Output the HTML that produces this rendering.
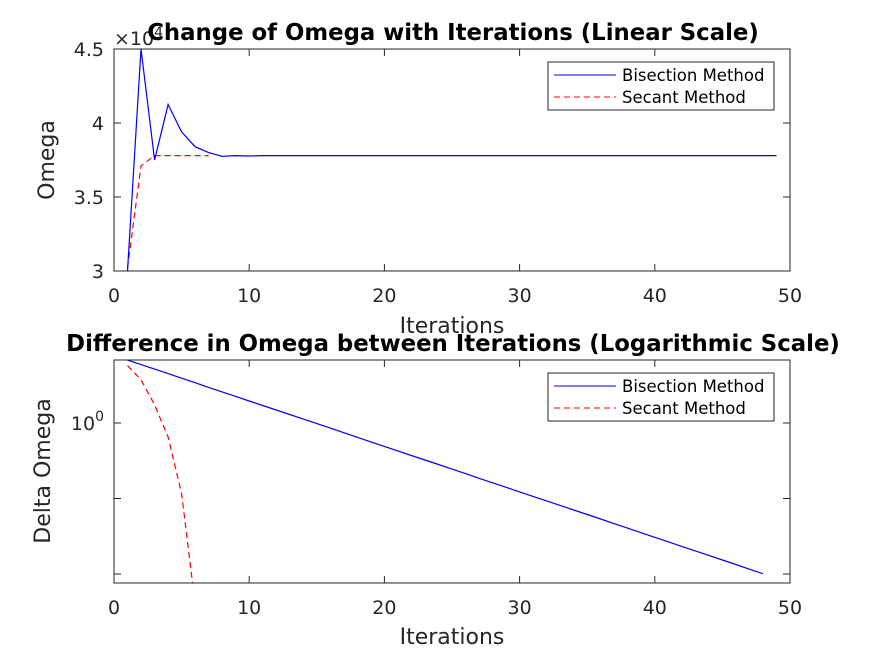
<!DOCTYPE html>
<html><head><meta charset="utf-8"><style>
html,body{margin:0;padding:0;background:#fff;}
svg{display:block;font-family:"DejaVu Sans","Liberation Sans",sans-serif;}
</style></head><body>
<svg id="fig" width="874" height="656" viewBox="0 0 874 656">
<rect width="874" height="656" fill="#fff"/>
<g id="top"></g>
<g id="bot"></g>
</svg>
<script>
// ---- top chart data ----
const topIterBis = [1,2,3,4,5,6,7,8,9,10,11,12,13,14,15,16,17,18,19,20,21,22,23,24,25,26,27,28,29,30,31,32,33,34,35,36,37,38,39,40,41,42,43,44,45,46,47,48,49];
const topOmegaBis = [3.0,4.5,3.75,4.125,3.94,3.84,3.80,3.775,3.78,3.777,3.78,3.78,3.78,3.78,3.78,3.78,3.78,3.78,3.78,3.78,3.78,3.78,3.78,3.78,3.78,3.78,3.78,3.78,3.78,3.78,3.78,3.78,3.78,3.78,3.78,3.78,3.78,3.78,3.78,3.78,3.78,3.78,3.78,3.78,3.78,3.78,3.78,3.78,3.78];
const topIterSec = [1,2,3,4,5,6,7];
const topOmegaSec = [3.02,3.71,3.78,3.78,3.78,3.78,3.78];
const topXTicks = [0,10,20,30,40,50];
const topYTicks = [3,3.5,4,4.5];
// ---- bottom chart data (log10 of delta omega) ----
const botIterBis = [1,2,3,4,5,6,7,8,9,10,11,12,13,14,15,16,17,18,19,20,21,22,23,24,25,26,27,28,29,30,31,32,33,34,35,36,37,38,39,40,41,42,43,44,45,46,47,48];
const botLogDeltaBis = [4.17,3.87,3.57,3.27,2.97,2.67,2.36,2.06,1.76,1.46,1.16,0.86,0.56,0.26,-0.04,-0.34,-0.64,-0.95,-1.25,-1.55,-1.85,-2.15,-2.45,-2.75,-3.05,-3.35,-3.66,-3.96,-4.26,-4.56,-4.86,-5.16,-5.46,-5.76,-6.06,-6.36,-6.67,-6.97,-7.27,-7.57,-7.87,-8.17,-8.47,-8.77,-9.07,-9.37,-9.68,-9.98];
const botIterSec = [1,2,3,4,5,6];
const botLogDeltaSec = [3.8,2.87,1.2,-0.93,-4.67,-12];
const botXTicks = [0,10,20,30,40,50];
const botYTicks = [0,-5,-10];

const NS="http://www.w3.org/2000/svg";
function mk(parent,tag,attrs){const e=document.createElementNS(NS,tag);for(const k in attrs)e.setAttribute(k,attrs[k]);parent.appendChild(e);return e;}
const L=114,R=790;
const sx=v=>L+(v/50)*(R-L);

function axes(g,T,B,sy,xt,yt,ylabels){
  mk(g,'rect',{x:L,y:T,width:R-L,height:B-T,fill:'#fff'});
  for(const t of xt){
    const x=sx(t);
    const a=mk(g,'line',{x1:x,y1:B,x2:x,y2:B-7,stroke:'#262626'});
    
    mk(g,'line',{x1:x,y1:T,x2:x,y2:T+7,stroke:'#262626'});
    const tx=mk(g,'text',{x:x,y:B+31,'text-anchor':'middle','font-size':19,fill:'#262626'});
    tx.textContent=t;
    
  }
  yt.forEach((t,i)=>{
    const y=sy(t);
    mk(g,'line',{x1:L,y1:y,x2:L+7,y2:y,stroke:'#262626'});
    mk(g,'line',{x1:R,y1:y,x2:R-7,y2:y,stroke:'#262626'});
    if(ylabels[i]){
      const tx=mk(g,'text',{x:L-10,y:y+7,'text-anchor':'end','font-size':19,fill:'#262626'});
      tx.innerHTML=ylabels[i];
      
    }
  });
}
function frame(g,T,B){mk(g,'rect',{x:L,y:T,width:R-L,height:B-T,fill:'none',stroke:'#262626','stroke-width':1});}
function line(g,xs,ys,sy,color,dash,name){
  const p=xs.map((x,i)=>sx(x).toFixed(1)+','+sy(ys[i]).toFixed(1)).join(' ');
  const e=mk(g,'polyline',{points:p,fill:'none',stroke:color,'stroke-width':1.2});
  if(dash)e.setAttribute('stroke-dasharray','6,4');
  
  
}
function legend(g,y0){
  const lg=mk(g,'g',{});
  
  mk(lg,'rect',{x:548,y:y0,width:226,height:48,fill:'#fff',stroke:'#262626'});
  mk(lg,'line',{x1:554,y1:y0+13,x2:616,y2:y0+13,stroke:'#0000ff'});
  mk(lg,'line',{x1:554,y1:y0+35,x2:616,y2:y0+35,stroke:'#ff0000','stroke-dasharray':'6,4'});
  const t1=mk(lg,'text',{x:622,y:y0+19,'font-size':16.5,fill:'#000'});t1.textContent='Bisection Method';
  
  const t2=mk(lg,'text',{x:622,y:y0+41,'font-size':16.5,fill:'#000'});t2.textContent='Secant Method';
  
}
function txt(g,attrs,s,name){const t=mk(g,'text',attrs);t.textContent=s;return t;}

// top chart
const gt=document.getElementById('top');
const T1=49,B1=271;
const sy1=v=>B1-(v-3)/1.5*(B1-T1);
axes(gt,T1,B1,sy1,topXTicks,topYTicks,['3','3.5','4','4.5']);
const clip1=mk(gt,'clipPath',{id:'c1'});mk(clip1,'rect',{x:L,y:T1,width:R-L,height:B1-T1});
const p1=mk(gt,'g',{'clip-path':'url(#c1)'});
line(p1,topIterSec,topOmegaSec,sy1,'#ff0000',true,'secant-line');
line(p1,topIterBis,topOmegaBis,sy1,'#0000ff',false,'bisection-line');
frame(gt,T1,B1);
legend(gt,62);
const ex=mk(gt,'text',{x:114,y:45,'font-size':19,fill:'#262626'});ex.innerHTML='×10<tspan dy="-8" font-size="14">4</tspan>';

txt(gt,{x:453,y:40,'text-anchor':'middle','font-size':22.8,'font-weight':'bold',fill:'#000'},'Change of Omega with Iterations (Linear Scale)','chart-title-top');
txt(gt,{x:452,y:333,'text-anchor':'middle','font-size':22,fill:'#262626'},'Iterations','x-axis-title-top');
txt(gt,{x:0,y:0,'text-anchor':'middle','font-size':22,fill:'#262626',transform:'translate(54,160) rotate(-90)'},'Omega','y-axis-title-top');

// bottom chart
const gb=document.getElementById('bot');
const T2=360,B2=583;
const dec=15.1;
const sy2=v=>423-v*dec;
axes(gb,T2,B2,sy2,botXTicks,botYTicks,['10<tspan dy="-9" font-size="14">0</tspan>','','']);
const clip2=mk(gb,'clipPath',{id:'c2'});mk(clip2,'rect',{x:L,y:T2,width:R-L,height:B2-T2});
const p2=mk(gb,'g',{'clip-path':'url(#c2)'});
line(p2,botIterSec,botLogDeltaSec,sy2,'#ff0000',true,'secant-delta-line');
line(p2,botIterBis,botLogDeltaBis,sy2,'#0000ff',false,'bisection-delta-line');
frame(gb,T2,B2);
legend(gb,373);
txt(gb,{x:453,y:351,'text-anchor':'middle','font-size':22.8,'font-weight':'bold',fill:'#000'},'Difference in Omega between Iterations (Logarithmic Scale)','chart-title-bottom');
txt(gb,{x:452,y:644,'text-anchor':'middle','font-size':22,fill:'#262626'},'Iterations','x-axis-title-bottom');
txt(gb,{x:0,y:0,'text-anchor':'middle','font-size':22,fill:'#262626',transform:'translate(50,471) rotate(-90)'},'Delta Omega','y-axis-title-bottom');
</script>
</body></html>
